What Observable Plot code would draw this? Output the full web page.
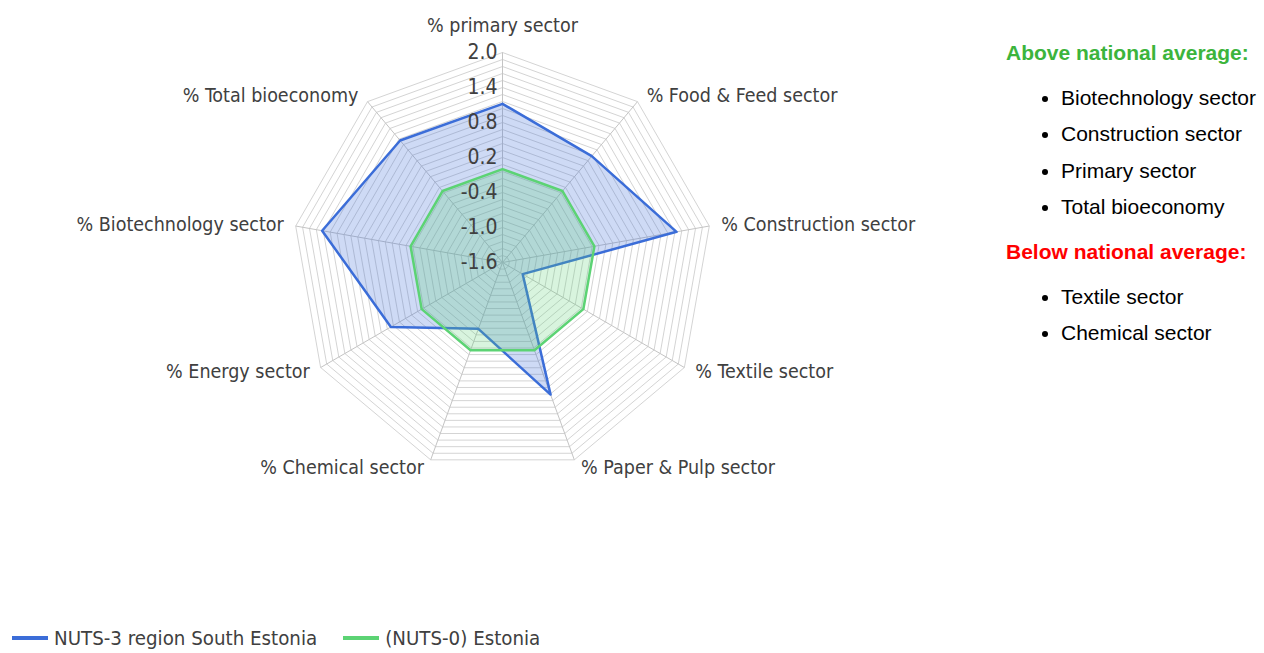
<!DOCTYPE html>
<html>
<head>
<meta charset="utf-8">
<script src="https://cdn.jsdelivr.net/npm/d3@7"></script>
<script src="https://cdn.jsdelivr.net/npm/@observablehq/plot@0.6"></script>
<style>
  html, body { margin: 0; padding: 0; background: #fff; }
  #wrap { position: relative; width: 1264px; height: 653px; overflow: hidden; }
  #chart { position: absolute; left: 0; top: 0; }
  #side { position: absolute; left: 1006px; top: 40px; font-family: "Liberation Sans", Arial, sans-serif; font-size: 21px; color: #000; white-space: nowrap; }
  #side .h { font-weight: bold; height: 26px; line-height: 26px; }
  #side ul { margin: 14px 0 14px 0; padding-left: 55px; }
  #side li { height: 36.3px; line-height: 36.3px; }
  #legend { position: absolute; left: 12px; top: 626px; font-family: "Liberation Sans Narrow", "DejaVu Sans Condensed", sans-serif; font-size: 20.3px; color: #404040; display: flex; align-items: center; }
  #legend .item { display: flex; align-items: center; margin-right: 26px; }
  #legend .sw { width: 36px; height: 4px; margin-right: 6px; }
</style>
</head>
<body>
<div id="wrap">
  <div id="chart"></div>
  <div id="side"></div>
  <div id="legend"></div>
</div>
<script>
// ---- data ----
const axesLabels = ["% primary sector", "% Food & Feed sector", "% Construction sector", "% Textile sector",
  "% Paper & Pulp sector", "% Chemical sector", "% Energy sector", "% Biotechnology sector", "% Total bioeconomy"];
const southEstonia = [1.12, 0.78, 1.43, -1.2, 0.81, -0.39, 0.61, 1.54, 1.13];
const estonia = [0, 0, 0, 0, 0, 0, 0, 0, 0];
const seriesNames = ["NUTS-3 region South Estonia", "(NUTS-0) Estonia"];
const seriesColors = ["#3b6dd8", "#5cd374"];
const tickLabels = [2.0, 1.4, 0.8, 0.2, -0.4, -1.0, -1.6];
const radialMin = -1.6, radialMax = 2.0, minorStep = 0.12;
const aboveList = ["Biotechnology sector", "Construction sector", "Primary sector", "Total bioeconomy"];
const belowList = ["Textile sector", "Chemical sector"];

// ---- geometry ----
const W = 1264, H = 610, R = 210, cx = 502, cy = 262;
const n = axesLabels.length;
const rScale = d3.scaleLinear().domain([radialMin, radialMax]).range([0, 1]);
const ang = i => (2 * Math.PI * i) / n;
const pt = (i, r) => ({x: r * Math.sin(ang(i)), y: r * Math.cos(ang(i))});

const ringVals = d3.range(1, Math.round((radialMax - radialMin) / minorStep) + 1).map(k => radialMin + k * minorStep);
const rings = ringVals.flatMap((v, k) => d3.range(n + 1).map(i => ({ring: k, ...pt(i % n, rScale(v))})));
const spokes = d3.range(n).map(i => ({x0: 0, y0: 0, ...pt(i, 1)}));

function seriesPts(vals, name) {
  return d3.range(n + 1).map(i => ({series: name, ...pt(i % n, rScale(vals[i % n]))}));
}
const blue = seriesPts(southEstonia, seriesNames[0]);
const green = seriesPts(estonia, seriesNames[1]);

const ticks = tickLabels.map(v => ({label: v.toFixed(1), ...pt(0, rScale(v))}));
const labR = 1 + 8 / R;
const labels = axesLabels.map((t, i) => ({text: t, i, ...pt(i, labR)}));
const side = i => (i === 0 ? "top" : (Math.sin(ang(i)) > 0 ? "right" : "left"));

const font = "'Liberation Sans Narrow', 'DejaVu Sans Condensed', sans-serif";
const labSize = 19.5;

const chart = Plot.plot({
  width: W, height: H, margin: 0,
  x: {domain: [-cx / R, (W - cx) / R], axis: null},
  y: {domain: [-(H - cy) / R, cy / R], axis: null},
  style: {background: "transparent", fontFamily: font},
  marks: [
    Plot.line(rings, {x: "x", y: "y", z: "ring", stroke: "#d4d4d4", strokeWidth: 1}),
    Plot.link(spokes, {x1: "x0", y1: "y0", x2: "x", y2: "y", stroke: "#c4c4c4", strokeWidth: 1}),
    Plot.line(blue, {x: "x", y: "y", fill: seriesColors[0], fillOpacity: 0.25, stroke: null}),
    Plot.line(blue, {x: "x", y: "y", stroke: seriesColors[0], strokeWidth: 2.5}),
    Plot.line(green, {x: "x", y: "y", fill: seriesColors[1], fillOpacity: 0.24, stroke: null}),
    Plot.line(green, {x: "x", y: "y", stroke: seriesColors[1], strokeWidth: 2.5}),
    Plot.text(ticks, {x: "x", y: "y", text: "label", textAnchor: "end", dx: -5, fontSize: 21, fill: "#404040"}),
    Plot.text(labels.filter(d => side(d.i) === "top"), {x: "x", y: "y", text: "text", textAnchor: "middle", dy: -19, fontSize: labSize, fill: "#404040"}),
    Plot.text(labels.filter(d => side(d.i) === "right"), {x: "x", y: "y", text: "text", textAnchor: "start", dx: 4, fontSize: labSize, fill: "#404040"}),
    Plot.text(labels.filter(d => side(d.i) === "left"), {x: "x", y: "y", text: "text", textAnchor: "end", dx: -4, fontSize: labSize, fill: "#404040"})
  ]
});
document.getElementById("chart").appendChild(chart);

// side panel
const sideEl = document.getElementById("side");
sideEl.innerHTML =
  `<div class="h" style="color:#3cb43c">Above national average:</div>` +
  `<ul>${aboveList.map(d => `<li>${d}</li>`).join("")}</ul>` +
  `<div class="h" style="color:#ff0000">Below national average:</div>` +
  `<ul>${belowList.map(d => `<li>${d}</li>`).join("")}</ul>`;

// bottom legend
document.getElementById("legend").innerHTML = seriesNames.map((s, i) =>
  `<div class="item"><div class="sw" style="background:${seriesColors[i]}"></div>${s}</div>`).join("");
</script>
</body>
</html>
